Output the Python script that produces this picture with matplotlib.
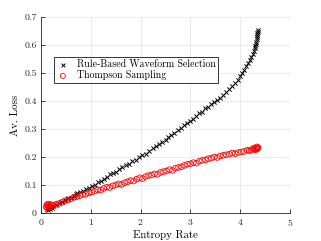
import matplotlib
matplotlib.use("Agg")
import matplotlib.pyplot as plt

rule_x = [0.12, 0.14, 0.15, 0.16, 0.17, 0.18, 0.19, 0.20, 0.22, 0.25, 0.30, 0.36, 0.42, 0.48,
          0.55, 0.60, 0.66, 0.70, 0.72, 0.78, 0.85, 0.90, 0.96, 1.02, 1.08, 1.15, 1.20, 1.26,
          1.32, 1.38, 1.44, 1.50, 1.56, 1.62, 1.70, 1.76, 1.83, 1.90, 1.96, 2.03, 2.10, 2.17,
          2.24, 2.30, 2.36, 2.43, 2.50, 2.56, 2.62, 2.68, 2.75, 2.82, 2.88, 2.94, 3.00, 3.06,
          3.12, 3.18, 3.24, 3.30, 3.36, 3.42, 3.48, 3.54, 3.60, 3.66, 3.72, 3.78, 3.84, 3.90,
          3.95, 4.00, 4.04, 4.08, 4.12, 4.16, 4.19, 4.22, 4.25, 4.27, 4.29, 4.30, 4.31, 4.32,
          4.33, 4.33, 4.34, 4.34, 4.35, 4.35]
rule_y = [0.015, 0.022, 0.012, 0.025, 0.018, 0.020, 0.014, 0.023, 0.019, 0.026, 0.030, 0.034,
          0.040, 0.045, 0.052, 0.055, 0.062, 0.068, 0.072, 0.074, 0.080, 0.086, 0.090, 0.097,
          0.101, 0.110, 0.114, 0.121, 0.128, 0.140, 0.143, 0.148, 0.156, 0.163, 0.170, 0.174,
          0.184, 0.190, 0.199, 0.206, 0.212, 0.223, 0.231, 0.238, 0.246, 0.254, 0.262, 0.272,
          0.280, 0.286, 0.297, 0.304, 0.314, 0.321, 0.330, 0.336, 0.346, 0.356, 0.361, 0.374,
          0.380, 0.390, 0.398, 0.404, 0.412, 0.420, 0.432, 0.442, 0.452, 0.466, 0.476, 0.490,
          0.500, 0.512, 0.524, 0.535, 0.546, 0.556, 0.568, 0.578, 0.588, 0.596, 0.604, 0.612,
          0.620, 0.628, 0.636, 0.642, 0.648, 0.652]

ts_x = [0.10, 0.12, 0.13, 0.14, 0.15, 0.16, 0.17, 0.18, 0.20, 0.22, 0.25, 0.30, 0.36, 0.42,
        0.48, 0.54, 0.60, 0.66, 0.72, 0.78, 0.84, 0.90, 0.96, 1.02, 1.08, 1.14, 1.20, 1.26,
        1.32, 1.38, 1.44, 1.50, 1.56, 1.62, 1.68, 1.74, 1.80, 1.86, 1.92, 1.98, 2.04, 2.10,
        2.16, 2.22, 2.28, 2.34, 2.40, 2.46, 2.52, 2.58, 2.64, 2.70, 2.76, 2.82, 2.88, 2.94,
        3.00, 3.06, 3.12, 3.18, 3.24, 3.30, 3.36, 3.42, 3.48, 3.54, 3.60, 3.66, 3.72, 3.78,
        3.84, 3.90, 3.96, 4.02, 4.08, 4.14, 4.18, 4.22, 4.26, 4.28, 4.30, 4.32, 4.33, 4.34,
        4.35, 4.36]
ts_y = [0.022, 0.030, 0.018, 0.026, 0.032, 0.021, 0.028, 0.024, 0.030, 0.022, 0.028, 0.031,
        0.034, 0.038, 0.044, 0.046, 0.050, 0.056, 0.058, 0.062, 0.066, 0.067, 0.072, 0.075,
        0.078, 0.083, 0.082, 0.088, 0.092, 0.091, 0.097, 0.100, 0.104, 0.102, 0.108, 0.112,
        0.116, 0.114, 0.121, 0.126, 0.123, 0.130, 0.134, 0.136, 0.140, 0.138, 0.145, 0.148,
        0.150, 0.155, 0.152, 0.160, 0.163, 0.165, 0.170, 0.174, 0.176, 0.180, 0.178, 0.185,
        0.188, 0.190, 0.194, 0.196, 0.200, 0.198, 0.204, 0.206, 0.208, 0.210, 0.214, 0.212,
        0.216, 0.218, 0.220, 0.224, 0.222, 0.226, 0.228, 0.232, 0.226, 0.230, 0.236, 0.228,
        0.232, 0.234]

x_ticks = [0, 1, 2, 3, 4, 5]
y_ticks = [0, 0.1, 0.2, 0.3, 0.4, 0.5, 0.6, 0.7]
y_tick_labels = ["0", "0.1", "0.2", "0.3", "0.4", "0.5", "0.6", "0.7"]

plt.rcParams['font.family'] = ['cmr10', 'DejaVu Serif']
plt.rcParams['axes.formatter.use_mathtext'] = True

fig = plt.figure(figsize=(3.21, 2.41), dpi=100)
ax = fig.add_axes([41/321, 28/241, 249/321, 196/241])

ax.scatter(rule_x, rule_y, marker='x', s=9, c='black', linewidths=0.7,
           label='Rule-Based Waveform Selection', zorder=3)
ax.scatter(ts_x, ts_y, marker='o', s=16, facecolors='none', edgecolors='red',
           linewidths=0.6, label='Thompson Sampling', zorder=3)

ax.set_xlim(0, 5)
ax.set_ylim(0, 0.7)
ax.set_xticks(x_ticks)
ax.set_yticks(y_ticks)
ax.set_yticklabels(y_tick_labels)
ax.grid(True, color='#e6e6e6', linewidth=0.6)
ax.set_axisbelow(True)
for s in ['top', 'right']:
    ax.spines[s].set_visible(False)
for s in ['left', 'bottom']:
    ax.spines[s].set_color('#262626')
    ax.spines[s].set_linewidth(0.6)
ax.tick_params(direction='in', length=3, width=0.6, labelsize=7, colors='#262626', pad=3)
ax.set_xlabel('Entropy Rate', fontsize=7.8, labelpad=1.5)
ax.set_ylabel('Av. Loss', fontsize=7.8, labelpad=3)

leg = ax.legend(loc='upper left', bbox_to_anchor=(0.052, 0.796), fontsize=7.1, frameon=True,
                fancybox=False, edgecolor='black', borderpad=0.3, handletextpad=0.8,
                labelspacing=0.1, borderaxespad=0, handlelength=1.2, markerscale=0.9)
leg.get_frame().set_linewidth(0.7)

fig.savefig('out.png', dpi=100)
